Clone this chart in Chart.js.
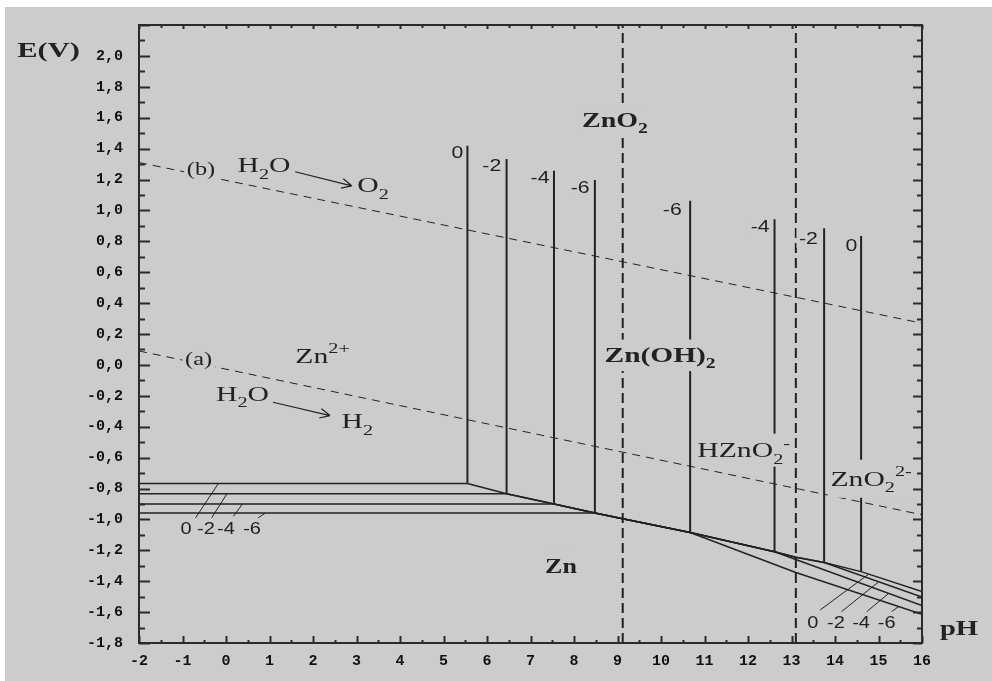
<!DOCTYPE html>
<html><head><meta charset="utf-8">
<script src="https://cdn.jsdelivr.net/npm/chart.js@4.4.0/dist/chart.umd.min.js"></script>
<style>html,body{margin:0;padding:0;background:#fff;}#wrap{width:992px;height:681px;}</style>
</head><body><div id="wrap"><canvas id="c" width="992" height="681"></canvas></div>
<script>
// ---------------- data ----------------
const phTicks = [-2,-1,0,1,2,3,4,5,6,7,8,9,10,11,12,13,14,15,16];
const eTicks = [-1.8,-1.6,-1.4,-1.2,-1.0,-0.8,-0.6,-0.4,-0.2,0.0,0.2,0.4,0.6,0.8,1.0,1.2,1.4,1.6,1.8,2.0,2.2];
const eTickLabels = ['-1,8','-1,6','-1,4','-1,2','-1,0','-0,8','-0,6','-0,4','-0,2','0,0','0,2','0,4','0,6','0,8','1,0','1,2','1,4','1,6','1,8','2,0',''];

// water stability lines (b) O2 and (a) H2
const waterO2PH = [-2, 16];
const waterO2E  = [1.31, 0.27];
const waterH2PH = [-2, 16];
const waterH2E  = [0.09, -0.97];

// dashed boundaries
const boundaryPH = [9.12, 13.10];

// log concentration labels
const concLabels = ['0', '-2', '-4', '-6'];
// Zn2+/Zn plateaus
const zn2PlateauE = [-0.767, -0.834, -0.901, -0.959];
// Zn2+/Zn(OH)2 vertical boundaries (acid side)
const acidEdgePH = [5.55, 6.45, 7.54, 8.48];
const acidTopE   = [1.418, 1.332, 1.256, 1.196];
// Zn(OH)2/HZnO2- (alkaline side) boundaries, order 0,-2,-4,-6
const baseEdgePH  = [14.60, 13.75, 12.61, 10.67];
const baseTopE    = [0.835, 0.885, 0.943, 1.062];
const baseBottomE = [-1.338, -1.279, -1.210, -1.085];

// Zn oxide / Zn lines
const znLine0PH = [5.55, 6.45, 7.54, 8.48, 9.12, 10.67, 12.61, 13.10, 13.75, 14.60, 16];
const znLine0E  = [-0.767, -0.834, -0.901, -0.959, -0.996, -1.085, -1.210, -1.245, -1.279, -1.338, -1.467];
const znLine2PH = [6.45, 7.54, 8.48, 9.12, 10.67, 12.61, 13.10, 13.75, 16];
const znLine2E  = [-0.834, -0.901, -0.959, -0.996, -1.085, -1.210, -1.245, -1.279, -1.503];
const znLine4PH = [7.54, 8.48, 9.12, 10.67, 12.61, 16];
const znLine4E  = [-0.901, -0.959, -0.996, -1.085, -1.210, -1.558];
const znLine6PH = [8.48, 9.12, 10.67, 13.10, 16];
const znLine6E  = [-0.959, -0.996, -1.085, -1.344, -1.614];

// hatch marks (start pH, start E, end pH, end E)
const hatchLeftPH0 = [-0.70, -0.33, 0.17, 0.74];
const hatchLeftE0  = [-0.99, -0.99, -0.98, -0.99];
const hatchLeftPH1 = [-0.18, 0.02, 0.38, 0.90];
const hatchLeftE1  = [-0.77, -0.835, -0.90, -0.96];
const hatchRightPH0 = [13.66, 14.15, 14.73, 15.30];
const hatchRightE0  = [-1.586, -1.597, -1.597, -1.597];
const hatchRightPH1 = [14.77, 15.00, 15.23, 15.46];
const hatchRightE1  = [-1.355, -1.405, -1.48, -1.565];

// reaction arrows
const arrowFromPH = [1.59, 1.08];
const arrowFromE  = [1.250, -0.242];
const arrowToPH   = [2.89, 2.39];
const arrowToE    = [1.159, -0.328];

// concentration label anchors
const concTopPH = [5.32, 6.11, 7.22, 8.14, 10.26, 12.28, 13.39, 14.38];
const concTopE  = [1.378, 1.289, 1.215, 1.146, 1.008, 0.894, 0.822, 0.774];
const concTopText = ['0', '-2', '-4', '-6', '-6', '-4', '-2', '0'];
const concLeftPH = [-0.92, -0.46, 0.0, 0.60];
const concLeftE = -1.058;
const concRightPH = [13.49, 14.02, 14.60, 15.19];
const concRightE = -1.671;

// ---------------- drawing ----------------
const BG = '#cccccc';
const INK = '#222222';

function pts(xs, ys) { return xs.map((x, i) => ({x: x, y: ys[i]})); }
function lineDs(data, width, dash) {
  return {data: data, showLine: true, borderColor: INK, borderWidth: width, borderDash: dash || [],
          pointRadius: 0, pointHoverRadius: 0, fill: false, tension: 0};
}

const datasets = [];
datasets.push(lineDs(pts(waterO2PH, waterO2E), 1, [8, 6]));
datasets.push(lineDs(pts(waterH2PH, waterH2E), 1, [8, 6]));
boundaryPH.forEach(p => datasets.push(lineDs([{x: p, y: -1.8}, {x: p, y: 2.2}], 2, [10, 5])));
concLabels.forEach((c, i) => {
  datasets.push(lineDs([{x: -2, y: zn2PlateauE[i]}, {x: acidEdgePH[i], y: zn2PlateauE[i]}], 1.5));
  datasets.push(lineDs([{x: acidEdgePH[i], y: zn2PlateauE[i]}, {x: acidEdgePH[i], y: acidTopE[i]}], 2));
  datasets.push(lineDs([{x: baseEdgePH[i], y: baseBottomE[i]}, {x: baseEdgePH[i], y: baseTopE[i]}], 2));
});
datasets.push(lineDs(pts(znLine0PH, znLine0E), 1.5));
datasets.push(lineDs(pts(znLine2PH, znLine2E), 1.5));
datasets.push(lineDs(pts(znLine4PH, znLine4E), 1.5));
datasets.push(lineDs(pts(znLine6PH, znLine6E), 1.5));
for (let i = 0; i < 4; i++) {
  datasets.push(lineDs([{x: hatchLeftPH0[i], y: hatchLeftE0[i]}, {x: hatchLeftPH1[i], y: hatchLeftE1[i]}], 1));
  datasets.push(lineDs([{x: hatchRightPH0[i], y: hatchRightE0[i]}, {x: hatchRightPH1[i], y: hatchRightE1[i]}], 1));
}

function rich(ctx, segs, cx, cy, o) {
  const w8 = o.weight || 'normal';
  const main = w8 + ' ' + o.size + 'px ' + o.family;
  const small = w8 + ' ' + Math.round(o.size * 0.68) + 'px ' + o.family;
  let w = 0; const ws = [];
  segs.forEach(s => { ctx.font = (s.sub || s.sup) ? small : main; const m = ctx.measureText(s.t).width; ws.push(m); w += m; });
  ctx.save();
  ctx.translate(cx, cy);
  ctx.scale(o.sx || 1, 1);
  let x = -w / 2;
  if (o.bg) {
    ctx.fillStyle = BG;
    const ph = o.padY || o.size * 0.75;
    ctx.fillRect(x - 2, -ph, w + 4, ph * 2);
  }
  ctx.fillStyle = INK; ctx.textAlign = 'left'; ctx.textBaseline = 'alphabetic';
  const base = o.size * 0.33;
  segs.forEach((s, i) => {
    ctx.font = (s.sub || s.sup) ? small : main;
    let y = base;
    if (s.sub) y = base + o.size * 0.28;
    if (s.sup) y = base - o.size * 0.45;
    ctx.fillText(s.t, x, y);
    x += ws[i];
  });
  ctx.restore();
}

const SERIF = '"Liberation Serif", "Times New Roman", serif';
const SANS = '"Liberation Sans", Arial, sans-serif';

const decor = {
  id: 'decor',
  beforeDraw(chart) {
    const ctx = chart.ctx;
    ctx.save();
    ctx.fillStyle = '#ffffff'; ctx.fillRect(0, 0, chart.width, chart.height);
    ctx.fillStyle = BG; ctx.fillRect(5, 7, chart.width - 5, chart.height - 7);
    ctx.restore();
  },
  afterDatasetsDraw(chart) {
    const ctx = chart.ctx;
    const xs = chart.scales.x, ys = chart.scales.y;
    const X = v => xs.getPixelForValue(v), Y = v => ys.getPixelForValue(v);
    const bold = {family: SERIF, weight: 'bold', size: 20, sx: 1.4, bg: true};
    const reg = {family: SERIF, size: 22, sx: 1.35, bg: true};
    const num = {family: SANS, size: 17, sx: 1.25, bg: true, padY: 10};

    // region labels
    rich(ctx, [{t: 'ZnO'}, {t: '2', sub: true}], X(8.94), Y(1.583), bold);
    rich(ctx, [{t: 'Zn(OH)'}, {t: '2', sub: true}], X(9.98), Y(0.062), Object.assign({}, bold, {size: 21}));
    rich(ctx, [{t: 'Zn'}], X(7.70), Y(-1.304), Object.assign({}, bold, {sx: 1.3}));
    rich(ctx, [{t: 'Zn'}, {t: '2+', sup: true}], X(2.22), Y(0.058), reg);
    rich(ctx, [{t: '(a)'}], X(-0.63), Y(0.035), Object.assign({}, reg, {size: 18, padY: 11}));
    rich(ctx, [{t: '(b)'}], X(-0.575), Y(1.267), Object.assign({}, reg, {size: 18, padY: 11}));
    rich(ctx, [{t: 'H'}, {t: '2', sub: true}, {t: 'O'}], X(0.874), Y(1.293), Object.assign({}, reg, {bg: false}));
    rich(ctx, [{t: 'O'}, {t: '2', sub: true}], X(3.38), Y(1.163), Object.assign({}, reg, {bg: false}));
    rich(ctx, [{t: 'H'}, {t: '2', sub: true}, {t: 'O'}], X(0.379), Y(-0.185), Object.assign({}, reg, {bg: false}));
    rich(ctx, [{t: 'H'}, {t: '2', sub: true}], X(3.02), Y(-0.364), Object.assign({}, reg, {bg: false}));
    rich(ctx, [{t: 'HZnO'}, {t: '2', sub: true}, {t: '-', sup: true}], X(11.90), Y(-0.552), reg);
    rich(ctx, [{t: 'ZnO'}, {t: '2', sub: true}, {t: '2-', sup: true}], X(14.83), Y(-0.737), Object.assign({}, reg, {padY: 19}));

    // concentration labels
    concTopText.forEach((t, i) => rich(ctx, [{t: t}], X(concTopPH[i]), Y(concTopE[i]), num));
    concLabels.forEach((t, i) => rich(ctx, [{t: t}], X(concLeftPH[i]), Y(concLeftE), Object.assign({}, num, {size: 16, bg: false})));
    concLabels.forEach((t, i) => rich(ctx, [{t: t}], X(concRightPH[i]), Y(concRightE), Object.assign({}, num, {size: 16, bg: false})));

    // axis titles
    rich(ctx, [{t: 'E(V)'}], X(-4.08), Y(2.035), {family: SERIF, weight: 'bold', size: 21, sx: 1.45});
    rich(ctx, [{t: 'pH'}], X(16.85), Y(-1.703), {family: SERIF, weight: 'bold', size: 21, sx: 1.36});

    // arrows
    ctx.save();
    ctx.strokeStyle = INK; ctx.lineWidth = 1.2;
    for (let i = 0; i < arrowFromPH.length; i++) {
      const x1 = X(arrowFromPH[i]), y1 = Y(arrowFromE[i]), x2 = X(arrowToPH[i]), y2 = Y(arrowToE[i]);
      const a = Math.atan2(y2 - y1, x2 - x1);
      ctx.beginPath(); ctx.moveTo(x1, y1); ctx.lineTo(x2, y2);
      ctx.moveTo(x2, y2); ctx.lineTo(x2 - 11 * Math.cos(a - 0.45), y2 - 11 * Math.sin(a - 0.45));
      ctx.moveTo(x2, y2); ctx.lineTo(x2 - 11 * Math.cos(a + 0.45), y2 - 11 * Math.sin(a + 0.45));
      ctx.stroke();
    }
    ctx.restore();

    // frame and inward ticks
    const ca = chart.chartArea;
    ctx.save();
    ctx.strokeStyle = '#2a2a2a';
    ctx.lineWidth = 2;
    ctx.strokeRect(ca.left, ca.top, ca.right - ca.left, ca.bottom - ca.top);
    ctx.lineWidth = 2;
    ctx.beginPath();
    for (let k = 0; k <= 40; k++) {
      const v = -1.8 + k * 0.1;
      const y = Math.round(Y(v)) + 0.5;
      const major = k % 2 === 0;
      ctx.moveTo(ca.left, y); ctx.lineTo(ca.left + (major ? 11 : 6), y);
      ctx.moveTo(ca.right, y); ctx.lineTo(ca.right - (major ? 9 : 5), y);
    }
    for (let k = 0; k <= 36; k++) {
      const v = -2 + k * 0.5;
      const x = Math.round(X(v)) + 0.5;
      const major = k % 2 === 0;
      ctx.moveTo(x, ca.bottom); ctx.lineTo(x, ca.bottom - (major ? 7 : 3));
      ctx.moveTo(x, ca.top); ctx.lineTo(x, ca.top + (major ? 4 : 3));
    }
    ctx.stroke();
    ctx.restore();
  }
};

new Chart(document.getElementById('c'), {
  type: 'scatter',
  data: {datasets: datasets},
  options: {
    responsive: false,
    animation: false,
    events: [],
    layout: {padding: {left: 0, right: 70, top: 25, bottom: 0}},
    plugins: {legend: {display: false}, tooltip: {enabled: false}},
    scales: {
      x: {
        type: 'linear', min: -2, max: 16, position: 'bottom',
        grid: {display: false, drawTicks: false}, border: {display: false},
        afterBuildTicks: s => { s.ticks = phTicks.map(v => ({value: v})); },
        afterFit: s => { s.height = 38; },
        ticks: {padding: 9, color: '#111', font: {family: '"Liberation Mono", "Courier New", monospace', weight: 'bold', size: 15},
                callback: (v, i) => String(phTicks[i]), maxRotation: 0, autoSkip: false}
      },
      y: {
        type: 'linear', min: -1.8, max: 2.2,
        grid: {display: false, drawTicks: false}, border: {display: false},
        afterBuildTicks: s => { s.ticks = eTicks.map(v => ({value: v})); },
        afterFit: s => { s.width = 139; },
        ticks: {padding: 16, color: '#111', font: {family: '"Liberation Mono", "Courier New", monospace', weight: 'bold', size: 15},
                callback: (v, i) => eTickLabels[i], autoSkip: false}
      }
    }
  },
  plugins: [decor]
});
</script>
</body></html>
